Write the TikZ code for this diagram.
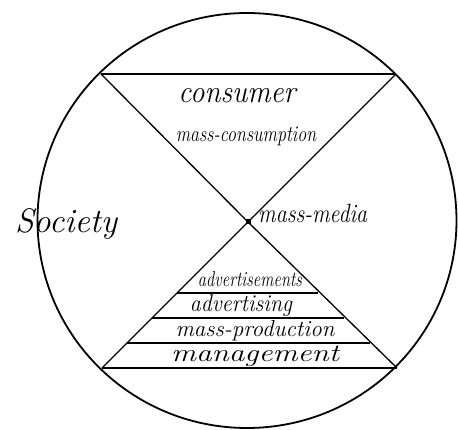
\documentclass[tikz,border=0pt]{standalone}
\usepackage{graphicx}
\tikzset{
  hw/.style={inner sep=0pt, anchor=base},
  ln/.style={line width=1.3pt},
}
\newcommand\hwtext[2]{{\fontsize{#1}{#1}\selectfont\itshape #2}}
\begin{document}
\begin{tikzpicture}[x=1pt,y=-1pt]
\useasboundingbox (0,0) rectangle (458,430);
\draw[line width=1.8pt] (247,220.5) ellipse [x radius=209.5, y radius=207.5];
% corners
\coordinate (TL) at (101,74);
\coordinate (TR) at (396,74);
\coordinate (BL) at (102,368);
\coordinate (BR) at (397,368);
\coordinate (C) at (248,222);
\draw[ln] (TL) -- (TR);
\draw[ln] (BL) -- (BR);
\draw[ln] (TL) -- (C) -- (BR);
\draw[ln] (TR) -- (C) -- (BL);
% bands
\coordinate (a1) at (177,293); \coordinate (b1) at (318,293);
\coordinate (a2) at (152,318); \coordinate (b2) at (344,318);
\coordinate (a3) at (127,343); \coordinate (b3) at (370,343);
\draw[ln] (a1) -- (b1);
\draw[ln] (a2) -- (b2);
\draw[ln] (a3) -- (b3);
\node[fill=black, minimum size=5pt, inner sep=0pt] (dot) at (C) {};
% texts
\node[hw] (consumer) at (237,103) {\scalebox{1}[1.1]{\hwtext{29pt}{consumer}}};
\node[hw] (masscons) at (246,142) {\scalebox{1}[1.25]{\hwtext{18pt}{mass-consumption}}};
\node[hw, anchor=base west] (media) at (258,223) {\scalebox{1}[1.2]{\hwtext{22pt}{mass-media}}};
\node[hw] (society) at (66,233) {\hwtext{34pt}{Society}};
\node[hw] (adverts) at (250,287) {\scalebox{1}[1.3]{\hwtext{16.5pt}{advertisements}}};
\node[hw] (advertising) at (241,312) {\scalebox{1}[1.1]{\hwtext{22pt}{advertising}}};
\node[hw] (massprod) at (255,337) {\hwtext{23pt}{mass-production}};
\node[hw] (management) at (255,362) {\scalebox{1.25}[1]{\hwtext{25pt}{management}}};
\end{tikzpicture}
\end{document}
